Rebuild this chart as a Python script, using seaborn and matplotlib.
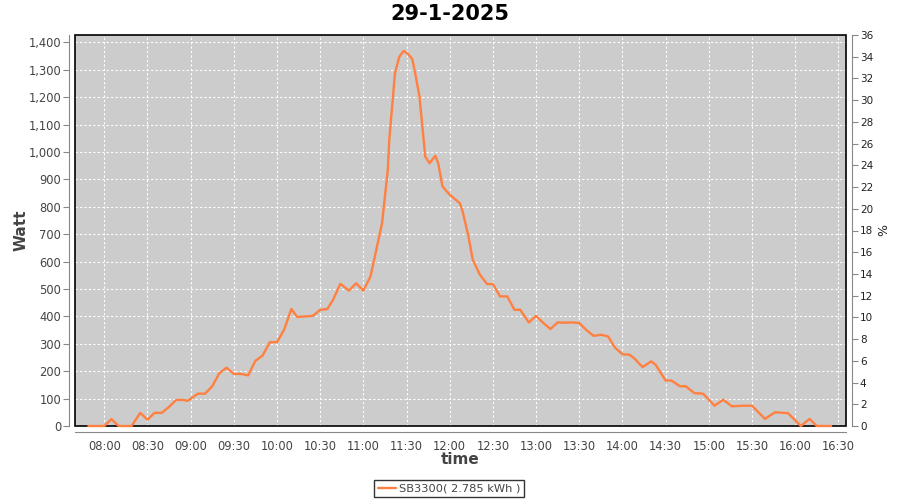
import pandas as pd
import matplotlib
matplotlib.use("Agg")
import matplotlib.pyplot as plt
import matplotlib.dates as mdates
from matplotlib.patches import Rectangle
from matplotlib.ticker import FuncFormatter, MultipleLocator
import seaborn as sns

# values
day = "2025-01-29"
times = [
    "07:49", "08:00", "08:05", "08:10", "08:19", "08:25", "08:30", "08:35", "08:40", "08:45",
    "08:50", "08:55", "08:58", "09:05", "09:10", "09:15", "09:20", "09:25", "09:30", "09:35",
    "09:40", "09:45", "09:50", "09:55", "10:00", "10:05", "10:10", "10:14", "10:20", "10:25",
    "10:30", "10:35", "10:39", "10:44", "10:50", "10:55", "11:00", "11:05", "11:09", "11:13",
    "11:15", "11:17", "11:18", "11:20", "11:22", "11:25", "11:28", "11:31", "11:34", "11:36",
    "11:39", "11:41", "11:43", "11:46", "11:50", "11:52", "11:55", "12:00", "12:07", "12:09",
    "12:13", "12:16", "12:21", "12:26", "12:30", "12:35", "12:40", "12:45", "12:49", "12:55",
    "13:00", "13:05", "13:10", "13:15", "13:20", "13:25", "13:30", "13:35", "13:40", "13:45",
    "13:50", "13:55", "14:00", "14:05", "14:08", "14:14", "14:20", "14:23", "14:30", "14:34",
    "14:40", "14:44", "14:50", "14:56", "15:04", "15:10", "15:16", "15:24", "15:30", "15:39",
    "15:46", "15:55", "16:04", "16:10", "16:15", "16:25",
]
watt = [
    0, 0, 25, 0, 0, 48, 23, 48, 48, 70,
    95, 95, 92, 118, 118, 145, 193, 213, 190, 190,
    185, 238, 257, 306, 306, 352, 427, 398, 400, 402,
    424, 427, 461, 519, 494, 521, 494, 546, 643, 740,
    838, 935, 1044, 1166, 1288, 1348, 1369, 1358, 1339, 1288,
    1202, 1093, 983, 959, 986, 959, 874, 844, 813, 783,
    692, 607, 552, 518, 518, 473, 473, 424, 424, 378,
    402, 376, 354, 378, 377, 378, 376, 350, 329, 333,
    327, 285, 262, 260, 248, 215, 236, 224, 166, 166,
    145, 145, 120, 118, 74, 96, 72, 74, 74, 26,
    50, 47, 0, 26, 0, 0,
]
series_name = "SB3300( 2.785 kWh )"
title = "29-1-2025"

df = pd.DataFrame({"time": pd.to_datetime([f"{day} {t}" for t in times]), "watt": watt})

sns.set_style("white")
plt.rcParams["font.family"] = ["DejaVu Sans"]

fig = plt.figure(figsize=(9, 5), dpi=100)
ax = fig.add_axes([75 / 900, 1 - 426 / 500, (846 - 75) / 900, (426 - 35) / 500])
ax.set_facecolor("#cccccc")

sns.lineplot(data=df, x="time", y="watt", ax=ax, color="#ff8040", linewidth=1.7,
             label=series_name, legend=False, zorder=7, clip_on=False)

ax.set_xlim(pd.Timestamp(f"{day} 07:39:40"), pd.Timestamp(f"{day} 16:35:20"))
ax.set_ylim(0, 1427)
ax.xaxis.set_major_locator(mdates.MinuteLocator(byminute=[0, 30]))
ax.xaxis.set_major_formatter(mdates.DateFormatter("%H:%M"))
ax.yaxis.set_major_locator(MultipleLocator(100))
ax.yaxis.set_major_formatter(FuncFormatter(lambda v, p: f"{int(v):,}"))

ax.grid(True, color="white", linestyle=(0, (2, 2)), linewidth=0.8)
ax.set_axisbelow(True)

for s in ["top", "right"]:
    ax.spines[s].set_visible(False)
for s in ["left", "bottom"]:
    ax.spines[s].set_position(("outward", 4))
    ax.spines[s].set_color("#888888")
ax.tick_params(axis="both", direction="out", length=4, width=0.8, color="#888888",
               labelsize=8.3, labelcolor="#444444", pad=2)
ax.set_xlabel("time", fontsize=11, fontweight="bold", color="#444444")
ax.set_ylabel("Watt", fontsize=11, fontweight="bold", color="#444444")
ax.xaxis.set_label_coords(0.5, -(452 - 426) / 391, transform=ax.transAxes)
ax.yaxis.set_label_coords(-(75 - 29) / 771, 0.5, transform=ax.transAxes)

# percent axis on the right
ax2 = ax.twinx()
ax2.set_ylim(0, 36)
ax2.yaxis.set_major_locator(MultipleLocator(2))
for s in ["top", "left", "bottom"]:
    ax2.spines[s].set_visible(False)
ax2.spines["right"].set_position(("outward", 4))
ax2.spines["right"].set_color("#888888")
ax2.tick_params(axis="y", direction="out", length=4, width=0.8, color="#888888",
                labelsize=7.5, labelcolor="#222222", pad=2)
ax2.set_ylabel("%", fontsize=9, color="#222222")
ax2.yaxis.set_label_coords(1 + (877 - 846) / 771, 0.5, transform=ax.transAxes)

# black plot outline
ax.add_patch(Rectangle((0, 0), 1, 1, transform=ax.transAxes, fill=False,
                       edgecolor="black", linewidth=1.2, zorder=6, clip_on=False))

fig.suptitle(title, fontsize=15, fontweight="bold", color="black", y=1 - 4 / 500, va="top")

handles, labels = ax.get_legend_handles_labels()
leg = fig.legend(handles, labels, loc="lower center", bbox_to_anchor=(0.499, -0.006),
                 fontsize=8.2, frameon=True, fancybox=False, handlelength=1.6,
                 handletextpad=0.3, borderpad=0.3)
leg.get_frame().set_edgecolor("black")
leg.get_frame().set_linewidth(1.0)
for t in leg.get_texts():
    t.set_color("#444444")

fig.savefig("out.png", dpi=100)
